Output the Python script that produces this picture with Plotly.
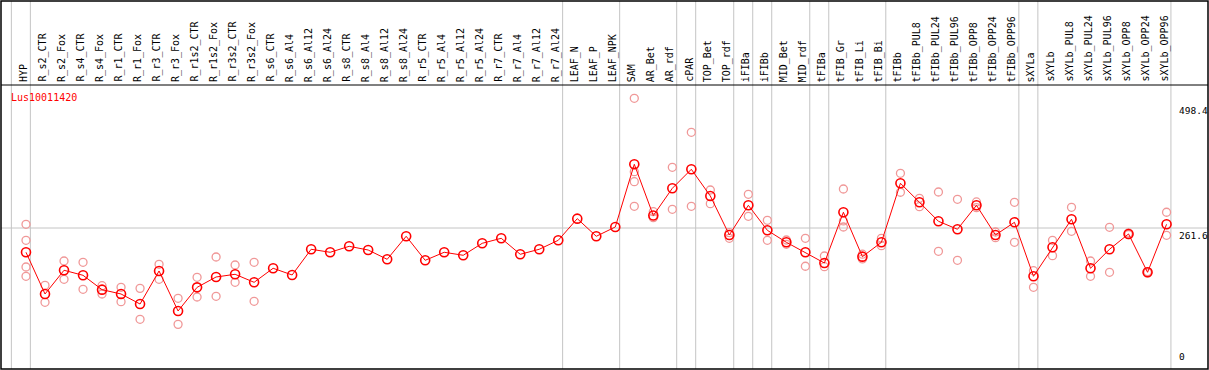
import plotly.graph_objects as go

categories = ["HYP", "R_s2_CTR", "R_s2_Fox", "R_s4_CTR", "R_s4_Fox", "R_r1_CTR", "R_r1_Fox",
              "R_r3_CTR", "R_r3_Fox", "R_r1s2_CTR", "R_r1s2_Fox", "R_r3s2_CTR", "R_r3s2_Fox",
              "R_s6_CTR", "R_s6_Al4", "R_s6_Al12", "R_s6_Al24", "R_s8_CTR", "R_s8_Al4",
              "R_s8_Al12", "R_s8_Al24", "R_r5_CTR", "R_r5_Al4", "R_r5_Al12", "R_r5_Al24",
              "R_r7_CTR", "R_r7_Al4", "R_r7_Al12", "R_r7_Al24", "LEAF_N", "LEAF_P", "LEAF_NPK",
              "SAM", "AR_Bet", "AR_rdf", "cPAR", "TOP_Bet", "TOP_rdf", "iFIBa", "iFIBb",
              "MID_Bet", "MID_rdf", "tFIBa", "tFIB_Gr", "tFIB_Li", "tFIB_Bi", "tFIBb",
              "tFIBb_PUL8", "tFIBb_PUL24", "tFIBb_PUL96", "tFIBb_OPP8", "tFIBb_OPP24",
              "tFIBb_OPP96", "sXYLa", "sXYLb", "sXYLb_PUL8", "sXYLb_PUL24", "sXYLb_PUL96",
              "sXYLb_OPP8", "sXYLb_OPP24", "sXYLb_OPP96"]

means = [215.6, 136.6, 181.5, 172.0, 144.8, 136.6, 117.6, 180.2, 104.4, 149.2, 168.8, 173.9, 158.7,
         185.3, 172.6, 221.3, 215.6, 226.9, 219.9, 202.3, 245.9, 200.4, 215.6, 209.9, 232.6,
         242.1, 211.8, 221.3, 238.3, 279.3, 245.9, 263.5,
         382.3, 285.2, 336.8, 372.8, 322.2, 248.4, 304.6, 257.2, 234.5, 215.6, 195.3, 291.4,
         207.3, 234.5, 346.3, 310.3, 274.3, 259.2, 304.6, 248.4, 272.4, 170.1, 225.0, 278.1,
         185.3, 221.3, 250.3, 177.7, 268.6]

replicates = [
    [268.6, 238.3, 187.7, 170.1],
    [153.0, 120.8],
    [199.1, 164.4],
    [196.6, 145.5],
    [152.3, 136.6],
    [149.2, 122.0],
    [147.3, 88.6],
    [192.8, 164.4],
    [128.4, 79.1],
    [168.2, 130.9],
    [206.7, 132.2],
    [191.5, 158.7],
    [196.6, 122.7],
    [], [], [], [], [], [], [], [], [], [], [], [], [], [], [], [], [], [], [],
    [507.3, 368.3, 349.3, 302.7],
    [292.5, 281.1],
    [376.6, 297.0],
    [442.9, 302.7],
    [333.6, 307.7],
    [252.8, 242.1],
    [325.4, 283.8],
    [276.2, 238.3],
    [238.9, 230.7],
    [242.1, 189.1],
    [208.6, 188.3],
    [335.5, 275.0, 263.5],
    [212.0, 203.0],
    [242.1, 228.1],
    [365.2, 329.3],
    [317.9, 302.0],
    [329.8, 217.5],
    [316.0, 200.4],
    [310.9, 300.1],
    [254.0, 243.2],
    [310.3, 234.5],
    [180.7, 149.2],
    [238.3, 209.2],
    [300.8, 255.3],
    [199.1, 170.1],
    [262.9, 177.7],
    [252.1, 249.0],
    [179.0, 176.5],
    [291.4, 247.8],
]

group_last = [-1, 0, 28, 31, 34, 35, 37, 38, 39, 41, 42, 45, 52, 53, 60]
gene = "Lus10011420"
tick_vals = [0, 261.6, 498.4]
tick_text = ["0", "261.6", "498.4"]

idx = list(range(len(categories)))
rx, ry = [], []
for i, reps in enumerate(replicates):
    for v in reps:
        rx.append(i)
        ry.append(v)

fig = go.Figure()
fig.add_trace(go.Scatter(x=rx, y=ry, mode="markers",
                         marker=dict(symbol="circle-open", size=8, color="#f09898",
                                     line=dict(width=1.3, color="#f09898")),
                         hoverinfo="y", showlegend=False))
fig.add_trace(go.Scatter(x=idx, y=means, mode="lines+markers",
                         line=dict(color="#ff0000", width=1),
                         marker=dict(symbol="circle-open", size=9, color="#ff0000",
                                     line=dict(width=1.6, color="#ff0000")),
                         text=categories, hoverinfo="text+y", showlegend=False))

shapes = []
for g in group_last:
    shapes.append(dict(type="line", xref="x", yref="paper", x0=g + 0.23, x1=g + 0.23,
                       y0=0, y1=1, line=dict(color="#c4c4c4", width=1), layer="below"))
shapes.append(dict(type="line", xref="paper", yref="y", x0=0, x1=1, y0=261.6, y1=261.6,
                   line=dict(color="#c4c4c4", width=1), layer="below"))
# header separator
shapes.append(dict(type="line", xref="paper", yref="paper", x0=0, x1=1,
                   y0=(369 - 85) / 368, y1=(369 - 85) / 368,
                   line=dict(color="black", width=1)))
# border
shapes.append(dict(type="rect", xref="paper", yref="paper", x0=0, x1=1, y0=0, y1=1,
                   line=dict(color="black", width=1.5)))

annotations = []
for i, c in enumerate(categories):
    annotations.append(dict(x=i, y=(369 - 84) / 368, xref="x", yref="paper", text=c,
                            textangle=-90, showarrow=False, xanchor="center", yanchor="bottom",
                            xshift=-2,
                            font=dict(family="DejaVu Sans Mono", size=10, color="black")))
annotations.append(dict(x=(9 - 1) / 1207, y=(369 - 97) / 368, xref="paper", yref="paper",
                        text=gene, showarrow=False, xanchor="left", yanchor="middle",
                        font=dict(family="DejaVu Sans Mono", size=10, color="#ff0000")))
for v, t in zip(tick_vals, tick_text):
    annotations.append(dict(x=(1177 - 1) / 1207, y=v, xref="paper", yref="y", text=t,
                            showarrow=False, xanchor="left",
                            yanchor="bottom" if v == 0 else "top",
                            yshift=2 if v == 0 else 0,
                            font=dict(family="DejaVu Sans Mono", size=9.5, color="black")))

fig.update_layout(
    width=1209, height=370,
    margin=dict(l=1, r=1, t=1, b=1),
    paper_bgcolor="white", plot_bgcolor="white",
    xaxis=dict(range=[-1.315, 62.18], showgrid=False, zeroline=False, showticklabels=False,
               ticks="", fixedrange=True),
    yaxis=dict(range=[-5.5, 691.6], showgrid=False, zeroline=False, showticklabels=False,
               ticks="", fixedrange=True),
    shapes=shapes, annotations=annotations,
)

fig.write_html("out.html", config={"displayModeBar": False},
               post_script="document.body.style.margin='0';document.body.style.overflow='hidden';")
